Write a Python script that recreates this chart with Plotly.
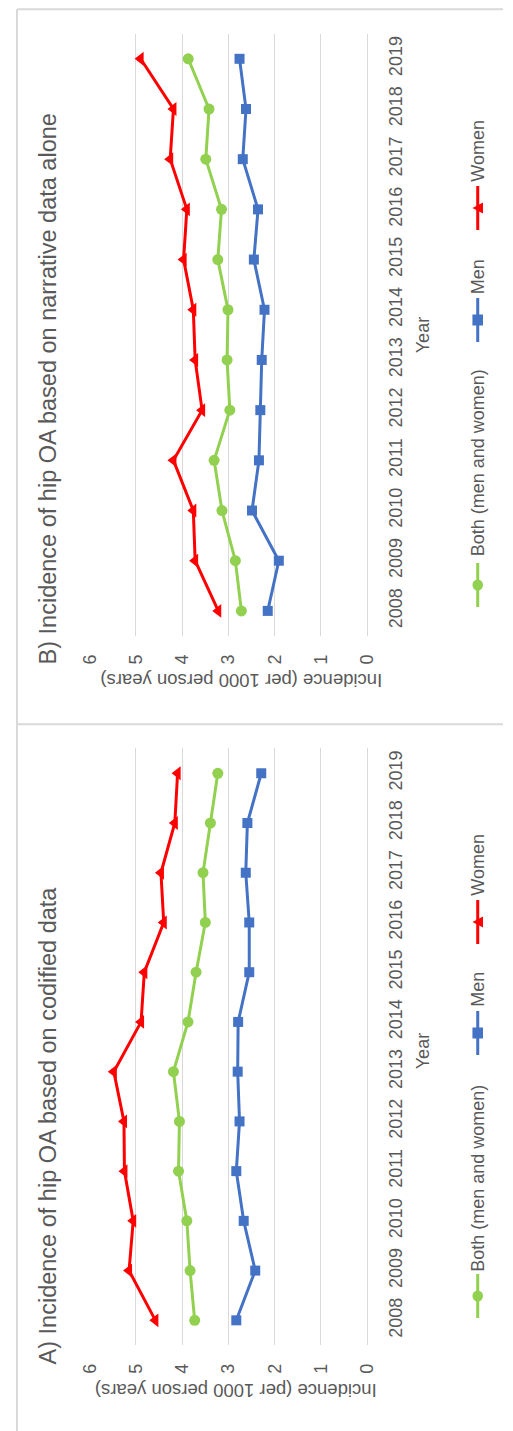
import plotly.graph_objects as go

# ---- data -------------------------------------------------------------
years = [2008, 2009, 2010, 2011, 2012, 2013, 2014, 2015, 2016, 2017, 2018, 2019]
value_ticks = [0, 1, 2, 3, 4, 5, 6]

# A) codified data (per 1000 person years)
codified_both = [3.73, 3.83, 3.90, 4.08, 4.06, 4.19, 3.875, 3.70, 3.50, 3.55, 3.39, 3.23]
codified_men = [2.83, 2.42, 2.67, 2.83, 2.76, 2.80, 2.79, 2.55, 2.55, 2.625, 2.59, 2.29]
codified_women = [4.58, 5.15, 5.06, 5.25, 5.26, 5.48, 4.89, 4.82, 4.40, 4.46, 4.16, 4.10]

# B) narrative data alone (per 1000 person years)
narrative_both = [2.72, 2.85, 3.14, 3.31, 2.97, 3.03, 3.01, 3.23, 3.15, 3.49, 3.42, 3.87]
narrative_men = [2.15, 1.91, 2.49, 2.34, 2.31, 2.28, 2.22, 2.45, 2.36, 2.69, 2.62, 2.76]
narrative_women = [3.22, 3.72, 3.76, 4.19, 3.57, 3.72, 3.76, 3.97, 3.90, 4.26, 4.19, 4.90]

series_names = ["Both (men and women)", "Men", "Women"]
panel_titles = ["A) Incidence of hip OA based on codified data",
                "B) Incidence of hip OA based on narrative data alone"]
value_title = "Incidence (per 1000 person years)"
year_title = "Year"

# ---- styling ------------------------------------------------------------
W, H = 513, 1431
FONT = "Liberation Sans, Arial, sans-serif"
TXT = "#595959"
GRID = "#D9D9D9"
COLORS = ["#92D050", "#4472C4", "#FF0000"]
SYMBOLS = ["circle", "square", "triangle-left"]
MSIZE = [11, 10, 12]


def px(x):
    return x / W


def py(y):
    return 1 - y / H


fig = go.Figure()

# one entry per panel: axis suffix, series, plot extent and text placement (px)
panels = [
    dict(ax="", data=[codified_both, codified_men, codified_women], top=748.4, bottom=1345.2,
         title_y=1125, vtitle=(235, 1391), ytitle_y=1051,
         legend=[(1296, 1178), (1033, 989), (922, 865)], title=panel_titles[0]),
    dict(ax="2", data=[narrative_both, narrative_men, narrative_women], top=33.7, bottom=636.0,
         title_y=389, vtitle=(241, 680), ytitle_y=335,
         legend=[(585, 462.5), (320, 276.6), (208, 151)], title=panel_titles[1]),
]

x_left, x_right = 83.0, 371.6

annotations = []
shapes = []

for p in panels:
    xa = "x" + p["ax"]
    ya = "y" + p["ax"]
    for name, vals, col, sym, ms in zip(series_names, p["data"], COLORS, SYMBOLS, MSIZE):
        fig.add_trace(go.Scatter(
            x=vals, y=years, mode="lines+markers", name=name,
            line=dict(color=col, width=3),
            marker=dict(symbol=sym, size=ms, color=col),
            xaxis=xa, yaxis=ya, showlegend=False, cliponaxis=False,
        ))

    fig.update_layout(**{
        "xaxis" + p["ax"]: dict(
            domain=[px(x_left), px(x_right)], range=[6, 0], anchor=ya,
            tickvals=value_ticks, tickangle=-90, showgrid=True, gridcolor=GRID,
            gridwidth=1.3, zeroline=True, zerolinecolor=GRID, zerolinewidth=1.3,
            showline=False, ticks="", ticklabelstandoff=14,
            tickfont=dict(family=FONT, size=18, color=TXT), fixedrange=True,
        ),
        "yaxis" + p["ax"]: dict(
            domain=[py(p["bottom"]), py(p["top"])], range=[2007.5, 2019.5], anchor=xa,
            side="right", tickvals=years, tickangle=-90, showgrid=False,
            zeroline=False, showline=False, ticks="", ticklabelstandoff=16,
            tickfont=dict(family=FONT, size=18, color=TXT), fixedrange=True,
        ),
    })

    # panel title
    annotations.append(dict(
        text=p["title"], x=px(40), y=py(p["title_y"]), xref="paper", yref="paper",
        textangle=-90, showarrow=False, xanchor="center", yanchor="middle",
        font=dict(family=FONT, size=23.5, color=TXT)))
    # value axis title (upside down)
    annotations.append(dict(
        text=value_title, x=px(p["vtitle"][0]), y=py(p["vtitle"][1]), xref="paper", yref="paper",
        textangle=180, showarrow=False, xanchor="center", yanchor="middle",
        font=dict(family=FONT, size=18.5, color=TXT)))
    # year axis title
    annotations.append(dict(
        text=year_title, x=px(430), y=py(p["ytitle_y"]), xref="paper", yref="paper",
        textangle=-90, showarrow=False, xanchor="center", yanchor="middle",
        font=dict(family=FONT, size=18, color=TXT)))

    # legend (rotated): line + marker symbol, then label
    lx = 486.7
    for (my, ty), name, col, sym in zip(p["legend"], series_names, COLORS, SYMBOLS):
        shapes.append(dict(type="line", xref="paper", yref="paper",
                           x0=px(lx), x1=px(lx), y0=py(my - 22), y1=py(my + 22),
                           line=dict(color=col, width=3)))
        r = 5.5
        if sym == "circle":
            shapes.append(dict(type="circle", xref="paper", yref="paper",
                               x0=px(lx - r), x1=px(lx + r), y0=py(my + r), y1=py(my - r),
                               fillcolor=col, line=dict(color=col, width=0)))
        elif sym == "square":
            shapes.append(dict(type="rect", xref="paper", yref="paper",
                               x0=px(lx - r), x1=px(lx + r), y0=py(my + r), y1=py(my - r),
                               fillcolor=col, line=dict(color=col, width=0)))
        else:
            path = "M {} {} L {} {} L {} {} Z".format(
                px(lx - r), py(my), px(lx + r), py(my - r), px(lx + r), py(my + r))
            shapes.append(dict(type="path", xref="paper", yref="paper", path=path,
                               fillcolor=col, line=dict(color=col, width=0)))
        annotations.append(dict(
            text=name, x=px(lx), y=py(ty), xref="paper", yref="paper",
            textangle=-90, showarrow=False, xanchor="center", yanchor="middle",
            font=dict(family=FONT, size=18, color=TXT)))

# outer frame lines
frame = dict(color=GRID, width=2)
shapes.append(dict(type="line", xref="paper", yref="paper",
                   x0=px(7.3), x1=1, y0=py(9.3), y1=py(9.3), line=frame))
shapes.append(dict(type="line", xref="paper", yref="paper",
                   x0=px(7.3), x1=1, y0=py(724.3), y1=py(724.3), line=frame))
shapes.append(dict(type="line", xref="paper", yref="paper",
                   x0=px(7.3), x1=px(7.3), y0=py(9.3), y1=0, line=frame))

fig.update_layout(
    width=W, height=H, margin=dict(l=0, r=0, t=0, b=0),
    paper_bgcolor="white", plot_bgcolor="white",
    annotations=annotations, shapes=shapes, showlegend=False,
    font=dict(family=FONT, color=TXT),
)

fig.write_html("out.html", config={"displayModeBar": False})
